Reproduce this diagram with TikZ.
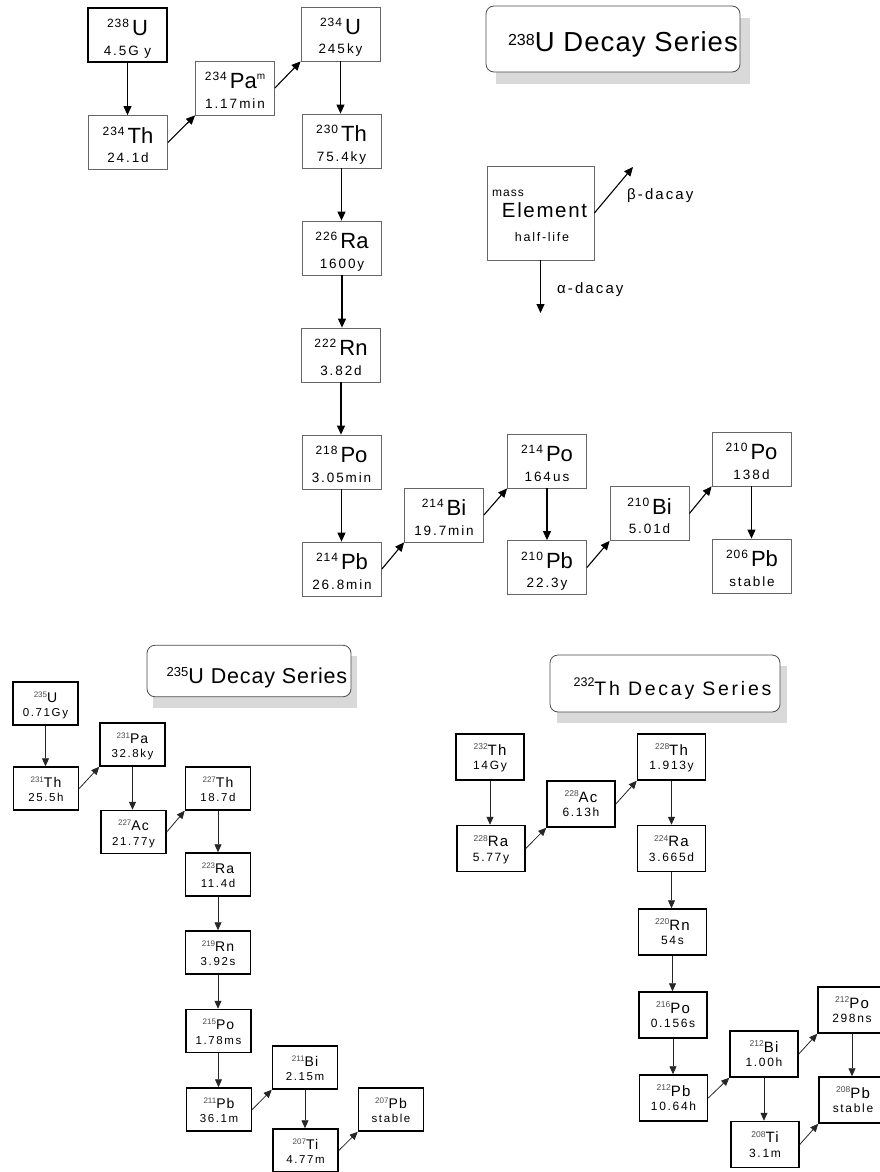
\documentclass[tikz,border=0pt]{standalone}
\usepackage{fontspec}
\setmainfont{Liberation Sans}
\newfontfamily\fA{Liberation Sans}
\newfontfamily\fB[LetterSpace=4]{Liberation Sans}
\newfontfamily\fC[LetterSpace=8]{Liberation Sans}
\newfontfamily\fD[LetterSpace=14]{Liberation Sans}
\usetikzlibrary{arrows.meta}
\tikzset{
  bigbox/.style={draw=black!60,line width=0.8pt,minimum width=79pt,minimum height=54pt,inner sep=0pt},
  thickbox/.style={draw=black,line width=2pt},
  boxU/.style={draw=black,line width=1.5pt,minimum width=65pt,minimum height=43pt,inner sep=0pt},
  boxT/.style={draw=black,line width=1.5pt,minimum width=68pt,minimum height=46pt,inner sep=0pt},
  txt/.style={inner sep=0pt,text=black},
  arrB/.style={line width=1.1pt,-{Triangle[length=9pt,width=8pt]}},
  arrS/.style={line width=0.8pt,draw=black!85,-{Triangle[length=8pt,width=7pt]}},
  titlebox/.style={draw=black!70,line width=0.8pt,rounded corners=8pt,fill=white,inner sep=0pt},
  shadowc/.style={fill=black!15},
}
\newcommand\isoB[7][]{%
  \node[bigbox,#1] (#2) at (#3,#4) {};
  \node[txt,anchor=base] (#2-e) at (#3,{#4+0.5}) {\raisebox{8pt}{\fontsize{12}{12}\fC #5}\hspace{3pt}{\fontsize{22}{22}\fA #6}};
  \node[txt,anchor=base] (#2-h) at (#3,{#4+20}) {\fontsize{13.5}{14}\fD #7};}
\newcommand\isoU[6]{%
  \node[boxU] (#1) at (#2,#3) {};
  \node[txt,anchor=base] (#1-e) at (#2,{#3-1.5}) {\raisebox{5pt}{\fontsize{8}{8}\fA\color{black!70}#4}{\fontsize{14}{14}\fC #5}};
  \node[txt,anchor=base] (#1-h) at (#2,{#3+13}) {\fontsize{11.5}{12}\fD #6};}
\newcommand\isoT[6]{%
  \node[boxT] (#1) at (#2,#3) {};
  \node[txt,anchor=base] (#1-e) at (#2,{#3-2}) {\raisebox{5.5pt}{\fontsize{8.5}{9}\fA\color{black!70}#4}{\fontsize{15}{15}\fC #5}};
  \node[txt,anchor=base] (#1-h) at (#2,{#3+12.5}) {\fontsize{12}{12}\fD #6};}
\begin{document}
\begin{tikzpicture}[x=1pt,y=-1pt]
\useasboundingbox (0,0) rectangle (879,1172);
\fill[white] (0,0) rectangle (879,1172);

% ===== 238U series =====
\fill[shadowc] (496,18) rectangle (750,84);
\node[titlebox,minimum width=254pt,minimum height=66pt] (t238) at (613,39) {};
\node[txt,anchor=base] (t238-t) at (623,51.7) {\raisebox{6.5pt}{\fontsize{16}{16}\fA 238}{\fontsize{27.5}{28}\fB U Decay Series}};

\isoB[thickbox]{u238}{127.5}{35.5}{238}{U}{4.5G y}
\isoB{th234}{128}{142.5}{234}{Th}{24.1d}
\node[bigbox] (pa234) at (235,88) {};
\node[txt,anchor=base] (pa234-e) at (235,88.5) {\raisebox{8pt}{\fontsize{12}{12}\fC 234}\hspace{3pt}{\fontsize{22}{22}\fA Pa}\raisebox{9pt}{\fontsize{10}{10}\fA m}};
\node[txt,anchor=base] (pa234-h) at (235,108) {\fontsize{13.5}{14}\fD 1.17\,min};
\isoB{u234}{340.5}{34}{234}{U}{245\,ky}
\isoB{th230}{341.5}{141}{230}{Th}{75.4ky}
\isoB{ra226}{342}{248}{226}{Ra}{1600y}
\isoB{rn222}{341}{355}{222}{Rn}{3.82d}
\isoB{po218}{341.5}{462}{218}{Po}{3.05min}
\isoB{pb214}{342}{569}{214}{Pb}{26.8min}
\isoB{bi214}{444}{515}{214}{Bi}{19.7min}
\isoB{po214}{547}{461}{214}{Po}{164\,us}
\isoB{pb210}{547}{567.5}{210}{Pb}{22.3y}
\isoB{bi210}{649.5}{513.5}{210}{Bi}{5.01d}
\isoB{po210}{751.5}{459}{210}{Po}{138\,d}
\isoB{pb206}{752}{566}{206}{Pb}{stable}

\draw[arrB] (u238.south) -- (u238.south |- th234.north);
\draw[arrB] (th234.east) -- (pa234.south west);
\draw[arrB] (pa234.east) -- (u234.south west);
\draw[arrB] (u234.south) -- (u234.south |- th230.north);
\draw[arrB] (th230.south) -- (th230.south |- ra226.north);
\draw[arrB] (ra226.south) -- (ra226.south |- rn222.north);
\draw[arrB] (rn222.south) -- (rn222.south |- po218.north);
\draw[arrB] (po218.south) -- (po218.south |- pb214.north);
\draw[arrB] (pb214.east) -- (bi214.south west);
\draw[arrB] (bi214.east) -- (po214.south west);
\draw[arrB] (po214.south) -- (po214.south |- pb210.north);
\draw[arrB] (pb210.east) -- (bi210.south west);
\draw[arrB] (bi210.east) -- (po210.south west);
\draw[arrB] (po210.south) -- (po210.south |- pb206.north);

% legend
\node[draw=black!60,line width=0.8pt,minimum width=107pt,minimum height=94pt,inner sep=0pt] (legend) at (540.5,213) {};
\node[txt] (lg-mass) at (508,193) {\fontsize{12}{12}\fC mass};
\node[txt] (lg-el) at (544.5,210) {\fontsize{20.5}{21}\fC Element};
\node[txt] (lg-hl) at (542,237) {\fontsize{12.5}{13}\fD half-life};
\coordinate (betaend) at (633,167);
\coordinate (alphaend) at (540.5,313);
\draw[arrB] (legend.east) -- (betaend);
\draw[arrB] (legend.south) -- (alphaend);
\node[txt,anchor=west] (lg-beta) at (627,196) {\fontsize{15}{15}\fD β-dacay};
\node[txt,anchor=west] (lg-alpha) at (557,290) {\fontsize{15}{15}\fD α-dacay};

% ===== 235U series =====
\fill[shadowc] (153,656) rectangle (357,707.5);
\node[titlebox,minimum width=204pt,minimum height=51.5pt] (t235) at (249,671) {};
\node[txt,anchor=base] (t235-t) at (257,683) {\raisebox{6.5pt}{\fontsize{13}{13}\fA 235}{\fontsize{21.5}{22}\fB U Decay Series}};

\isoU{u235}{45.5}{703.5}{235}{U}{0.71Gy}
\isoU{th231}{46}{788.5}{231}{Th}{25.5h}
\isoU{pa231}{132.5}{744.5}{231}{Pa}{32.8ky}
\isoU{ac227}{133.5}{832}{227}{Ac}{21.77y}
\isoU{th227}{218}{788.5}{227}{Th}{18.7d}
\isoU{ra223}{218}{874.5}{223}{Ra}{11.4d}
\isoU{rn219}{218}{952.5}{219}{Rn}{3.92s}
\isoU{po215}{218.5}{1031}{215}{Po}{1.78ms}
\isoU{pb211}{219}{1109.5}{211}{Pb}{36.1m}
\isoU{bi211}{305}{1067.5}{211}{Bi}{2.15m}
\isoU{tl207}{305.5}{1150.5}{207}{Ti}{4.77m}
\isoU{pb207}{391}{1109.5}{207}{Pb}{stable}

\draw[arrS] (u235.south) -- (u235.south |- th231.north);
\draw[arrS] (th231.east) -- (pa231.south west);
\draw[arrS] (pa231.south) -- (pa231.south |- ac227.north);
\draw[arrS] (ac227.east) -- (th227.south west);
\draw[arrS] (th227.south) -- (th227.south |- ra223.north);
\draw[arrS] (ra223.south) -- (ra223.south |- rn219.north);
\draw[arrS] (rn219.south) -- (rn219.south |- po215.north);
\draw[arrS] (po215.south) -- (po215.south |- pb211.north);
\draw[arrS] (pb211.east) -- (bi211.south west);
\draw[arrS] (bi211.south) -- (bi211.south |- tl207.north);
\draw[arrS] (tl207.east) -- (pb207.south west);

% ===== 232Th series =====
\fill[shadowc] (557,666) rectangle (787,723);
\node[titlebox,minimum width=230pt,minimum height=57pt] (t232) at (665,683.5) {};
\node[txt,anchor=base] (t232-t) at (672.5,695) {\raisebox{9pt}{\fontsize{12.5}{13}\fA 232}{\fontsize{19.5}{20}\fD Th Decay Series}};

\isoT{th232}{490}{757}{232}{Th}{14Gy}
\isoT{ra228}{491}{848.5}{228}{Ra}{5.77y}
\isoT{ac228}{581}{804}{228}{Ac}{6.13h}
\isoT{th228}{671.5}{757}{228}{Th}{1.913y}
\isoT{ra224}{671.5}{848.5}{224}{Ra}{3.665d}
\isoT{rn220}{672.5}{932}{220}{Rn}{54s}
\isoT{po216}{673}{1015}{216}{Po}{0.156s}
\isoT{pb212}{673.5}{1098}{212}{Pb}{10.64h}
\isoT{bi212}{764}{1054}{212}{Bi}{1.00h}
\isoT{po212}{852}{1010}{212}{Po}{298ns}
\isoT{pb208}{853}{1100}{208}{Pb}{stable}
\isoT{tl208}{765}{1144.5}{208}{Ti}{3.1m}

\draw[arrS] (th232.south) -- (th232.south |- ra228.north);
\draw[arrS] (ra228.east) -- (ac228.south west);
\draw[arrS] (ac228.east) -- (th228.south west);
\draw[arrS] (th228.south) -- (th228.south |- ra224.north);
\draw[arrS] (ra224.south) -- (ra224.south |- rn220.north);
\draw[arrS] (rn220.south) -- (rn220.south |- po216.north);
\draw[arrS] (po216.south) -- (po216.south |- pb212.north);
\draw[arrS] (pb212.east) -- (bi212.south west);
\draw[arrS] (bi212.east) -- (po212.south west);
\draw[arrS] (bi212.south) -- (bi212.south |- tl208.north);
\draw[arrS] (po212.south) -- (po212.south |- pb208.north);
\draw[arrS] (tl208.east) -- (pb208.south west);
\end{tikzpicture}
\end{document}
